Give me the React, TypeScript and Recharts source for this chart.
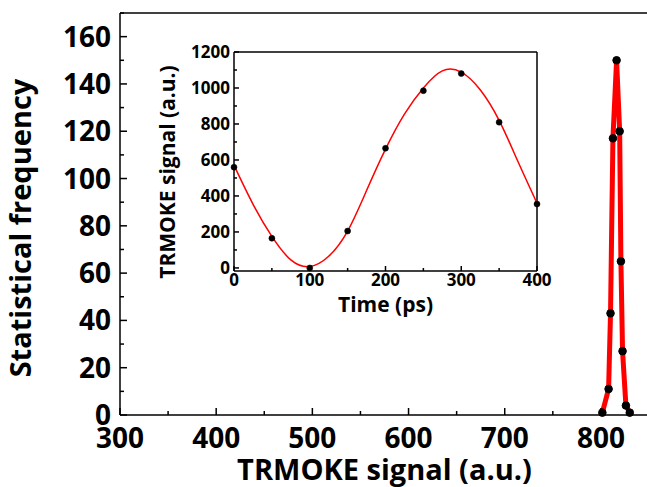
import React from "react";
import { LineChart, Line, XAxis, YAxis, ReferenceLine } from "recharts";

// main histogram of TRMOKE signal
const peakX = [801.5, 808, 810, 812.5, 816.3, 819.5, 820.8, 822.5, 826, 830];
const peakCount = [1, 11, 43, 117, 150, 120, 65, 27, 4, 1];

// inset: measured points and fitted curve
const timePts = [0, 50, 100, 150, 200, 250, 300, 350, 400];
const signalPts = [560, 165, 0, 205, 665, 985, 1080, 810, 355];
const fitTime = [0, 25, 50, 75, 100, 125, 150, 175, 200, 225, 250, 275, 300, 325, 350, 375, 400];
const fitSignal = [570, 355, 175, 45, 8, 65, 205, 430, 660, 855, 1000, 1095, 1088, 990, 820, 590, 360];

const mainXTicks = [300, 350, 400, 450, 500, 550, 600, 650, 700, 750, 800, 850];
const mainYTicks = [0, 10, 20, 30, 40, 50, 60, 70, 80, 90, 100, 110, 120, 130, 140, 150, 160, 170];
const insetXTicks = [0, 50, 100, 150, 200, 250, 300, 350, 400];
const insetYTicks = [0, 100, 200, 300, 400, 500, 600, 700, 800, 900, 1000, 1100, 1200];

const peakData = peakX.map((x, i) => ({ x, y: peakCount[i] }));
const pointData = timePts.map((t, i) => ({ t, s: signalPts[i] }));
const fitData = fitTime.map((t, i) => ({ t, s: fitSignal[i] }));

const FONT = "'Open Sans', sans-serif";
const RED = "#ff0000";

function makeXTick(step: number, len: [number, number], size: number, dy: number) {
  return (props: any) => {
    const { x, y, payload } = props;
    const major = payload.value % step === 0;
    return (
      <g>
        <line x1={x} x2={x} y1={y} y2={y - (major ? len[0] : len[1])} stroke="#000" strokeWidth={1.5} />
        {major && (
          <text x={x} y={y + dy} textAnchor="middle" fontFamily={FONT} fontWeight={700} fontSize={size} fill="#000">
            {payload.value}
          </text>
        )}
      </g>
    );
  };
}

function makeYTick(step: number, len: [number, number], size: number, gap: number, dy: number) {
  return (props: any) => {
    const { x, y, payload } = props;
    const major = payload.value % step === 0;
    return (
      <g>
        <line x1={x} x2={x + (major ? len[0] : len[1])} y1={y} y2={y} stroke="#000" strokeWidth={1.5} />
        {major && (
          <text x={x - gap} y={y + dy} textAnchor="end" fontFamily={FONT} fontWeight={700} fontSize={size} fill="#000">
            {payload.value}
          </text>
        )}
      </g>
    );
  };
}

const MainXTick = makeXTick(100, [7, 4], 28, 33);
const MainYTick = makeYTick(20, [7, 4], 28, 9, 10);
const InsetXTick = makeXTick(100, [5, 3], 17, 15);
const InsetYTick = makeYTick(200, [5, 3], 17, 4, 6);

export default function App() {
  return (
    <div style={{ position: "absolute", left: 0, top: 0, width: 647, height: 487, overflow: "hidden", background: "#fff" }}>
      <div style={{ position: "absolute", left: 0, top: 0 }}>
        <LineChart width={660} height={487} data={peakData} margin={{ top: 13, right: 11, bottom: 0, left: 0 }}>
          <XAxis
            type="number"
            dataKey="x"
            domain={[300, 850]}
            ticks={mainXTicks}
            interval={0}
            height={72}
            tickSize={0}
            tickMargin={0}
            tickLine={false}
            axisLine={{ stroke: "#000", strokeWidth: 1.5 }}
            tick={MainXTick}
            label={(p: any) => {
              const vb = p.viewBox;
              return (
                <text x={vb.x + vb.width / 2} y={480} textAnchor="middle" fontFamily={FONT} fontWeight={700} fontSize={29} fill="#000">
                  TRMOKE signal (a.u.)
                </text>
              );
            }}
          />
          <YAxis
            type="number"
            domain={[0, 170]}
            ticks={mainYTicks}
            interval={0}
            width={120}
            tickSize={0}
            tickMargin={0}
            tickLine={false}
            axisLine={{ stroke: "#000", strokeWidth: 1.5 }}
            tick={MainYTick}
            label={() => (
              <text x={31} y={228} transform="rotate(-90, 31, 228)" textAnchor="middle" fontFamily={FONT} fontWeight={700} fontSize={29} fill="#000">
                Statistical frequency
              </text>
            )}
          />
          <ReferenceLine y={170} stroke="#000" strokeWidth={1.5} />
          <Line
            dataKey="y"
            type="linear"
            stroke={RED}
            strokeWidth={5}
            dot={{ r: 3.8, fill: "#000", stroke: "#000", strokeWidth: 1 }}
            isAnimationActive={false}
          />
        </LineChart>
      </div>
      <div style={{ position: "absolute", left: 150, top: 30 }}>
        <LineChart width={420} height={300} margin={{ top: 22, right: 33, bottom: 0, left: 0 }}>
          <XAxis
            type="number"
            dataKey="t"
            domain={[0, 400]}
            ticks={insetXTicks}
            interval={0}
            height={59}
            tickSize={0}
            tickMargin={0}
            tickLine={false}
            axisLine={{ stroke: "#000", strokeWidth: 1.5 }}
            tick={InsetXTick}
            label={(p: any) => {
              const vb = p.viewBox;
              return (
                <text x={vb.x + vb.width / 2} y={282} textAnchor="middle" fontFamily={FONT} fontWeight={700} fontSize={21} fill="#000">
                  Time (ps)
                </text>
              );
            }}
          />
          <YAxis
            type="number"
            domain={[-17, 1200]}
            ticks={insetYTicks}
            interval={0}
            width={84}
            tickSize={0}
            tickMargin={0}
            tickLine={false}
            axisLine={{ stroke: "#000", strokeWidth: 1.5 }}
            tick={InsetYTick}
            label={() => (
              <text x={25} y={142} transform="rotate(-90, 25, 142)" textAnchor="middle" fontFamily={FONT} fontWeight={700} fontSize={21} fill="#000">
                TRMOKE signal (a.u.)
              </text>
            )}
          />
          <ReferenceLine y={1200} stroke="#000" strokeWidth={1.5} />
          <ReferenceLine x={400} stroke="#000" strokeWidth={1.5} />
          <Line data={fitData} dataKey="s" type="natural" stroke={RED} strokeWidth={1.5} dot={false} isAnimationActive={false} />
          <Line
            data={pointData}
            dataKey="s"
            stroke="none"
            dot={{ r: 3, fill: "#000", stroke: "#000", strokeWidth: 0.5 }}
            isAnimationActive={false}
          />
        </LineChart>
      </div>
    </div>
  );
}
